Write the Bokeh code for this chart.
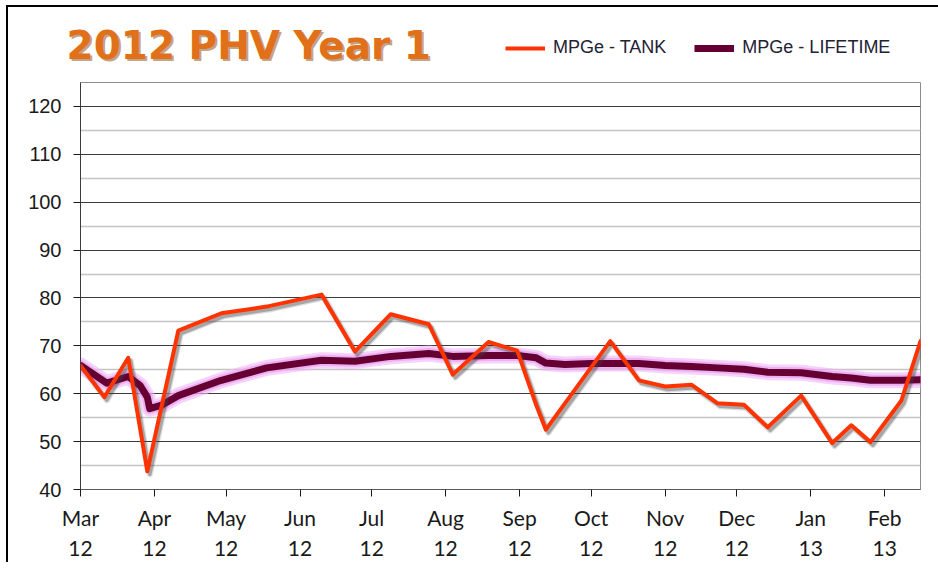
import pandas as pd
from bokeh.plotting import figure
from bokeh.layouts import column
from bokeh.models import (Range1d, FixedTicker, Legend, LegendItem, Label,
                          ColumnDataSource)
from bokeh.embed import file_html
from bokeh.resources import INLINE

# ---------------- data ----------------
tank_dates = ["2012-03-01", "2012-03-11", "2012-03-21", "2012-03-29", "2012-04-11",
              "2012-04-29", "2012-05-18", "2012-06-10", "2012-06-24", "2012-07-09",
              "2012-07-25", "2012-08-04", "2012-08-19", "2012-08-31", "2012-09-08",
              "2012-09-12", "2012-10-09", "2012-10-21", "2012-11-01", "2012-11-12",
              "2012-11-23", "2012-12-04", "2012-12-14", "2012-12-28", "2013-01-10",
              "2013-01-18", "2013-01-26", "2013-02-08", "2013-02-16"]
tank_mpge = [65.9, 59.3, 67.5, 43.8, 73.2, 76.8, 78.2, 80.7, 68.8, 76.6,
             74.5, 64.0, 70.8, 69.0, 57.6, 52.5, 71.0, 62.8, 61.5, 61.9,
             58.0, 57.7, 53.0, 59.6, 49.7, 53.4, 49.9, 58.6, 71.0]

life_dates = ["2012-03-01", "2012-03-12", "2012-03-21", "2012-03-26", "2012-03-29",
              "2012-03-30", "2012-04-04", "2012-04-11", "2012-04-29", "2012-05-18",
              "2012-06-10", "2012-06-24", "2012-07-09", "2012-07-25", "2012-08-04",
              "2012-08-19", "2012-08-31", "2012-09-08", "2012-09-12", "2012-09-20",
              "2012-10-01", "2012-10-21", "2012-11-01", "2012-11-12", "2012-11-23",
              "2012-12-04", "2012-12-14", "2012-12-28", "2013-01-10", "2013-01-18",
              "2013-01-26", "2013-02-08", "2013-02-16"]
life_mpge = [65.9, 62.2, 63.6, 61.7, 59.3, 56.9, 57.6, 59.6, 62.8, 65.4,
             67.0, 66.8, 67.8, 68.4, 67.8, 68.0, 68.0, 67.5, 66.4, 66.1,
             66.3, 66.3, 65.9, 65.7, 65.4, 65.1, 64.5, 64.4, 63.6, 63.3,
             62.8, 62.8, 62.9]

month_ticks = ["2012-03-01", "2012-04-01", "2012-05-01", "2012-06-01", "2012-07-01",
               "2012-08-01", "2012-09-01", "2012-10-01", "2012-11-01", "2012-12-01",
               "2013-01-01", "2013-02-01"]
month_labels = ["Mar\n12", "Apr\n12", "May\n12", "Jun\n12", "Jul\n12", "Aug\n12",
                "Sep\n12", "Oct\n12", "Nov\n12", "Dec\n12", "Jan\n13", "Feb\n13"]

y_major = [40, 50, 60, 70, 80, 90, 100, 110, 120]
y_minor = [45, 55, 65, 75, 85, 95, 105, 115, 125]

title_text = "2012 PHV  Year 1"
series_names = ["MPGe - TANK", "MPGe - LIFETIME"]

x_start = pd.Timestamp("2012-03-01")
x_end = pd.Timestamp("2013-02-16")
y_start, y_end = 40, 125

TANK_COLOR = "#ff3300"
LIFE_COLOR = "#660033"

# ---------------- layout sizes ----------------
W = 928
HEAD_W = 930
HEAD_H = 75
MAIN_H = 480
ML, MR, MT, MB = 72, 16, 0, 73
FW, FH = W - ML - MR, MAIN_H - MT - MB

tank_src = ColumnDataSource(dict(x=pd.to_datetime(tank_dates), y=tank_mpge))
life_src = ColumnDataSource(dict(x=pd.to_datetime(life_dates), y=life_mpge))

# ---------------- header (title + legend) ----------------
head = figure(width=HEAD_W, height=HEAD_H, x_range=Range1d(0, HEAD_W),
              y_range=Range1d(HEAD_H, 0),
              output_backend="svg", toolbar_location=None,
              x_axis_location=None, y_axis_location=None,
              min_border_left=0, min_border_right=0, min_border_top=0, min_border_bottom=0)
head.frame_align = False
head.grid.visible = False
head.outline_line_color = None
head.background_fill_color = "white"
head.border_fill_color = "white"

for off, col, alpha in [(2, "#8a4a12", 0.5), (0, "#e0701a", 1.0)]:
    head.add_layout(Label(x=58 + off, y=38 + off, text=title_text,
                          text_baseline="middle", text_align="left",
                          text_font="DejaVu Sans", text_font_style="bold",
                          text_font_size="39px", text_color=col, text_alpha=alpha))

# legend proxies: a single blank (NaN) point, so only the legend glyph is drawn
blank = ColumnDataSource(dict(x=[float("nan")], y=[float("nan")]))
leg_tank = head.line("x", "y", source=blank, line_color=TANK_COLOR, line_width=4)
leg_life = head.line("x", "y", source=blank, line_color=LIFE_COLOR, line_width=7)
legend = Legend(items=[LegendItem(label=series_names[0], renderers=[leg_tank]),
                       LegendItem(label=series_names[1], renderers=[leg_life])],
                orientation="horizontal", location=(497, 24),
                border_line_color=None, background_fill_alpha=0,
                padding=0, margin=0, spacing=28, glyph_width=40, glyph_height=20,
                label_standoff=8, label_text_font="Liberation Sans",
                label_text_font_size="18px", label_text_color="#222233")
head.add_layout(legend, "center")

# ---------------- main chart ----------------
p = figure(width=W, height=MAIN_H, x_axis_type="datetime",
           x_range=Range1d(x_start, x_end), y_range=Range1d(y_start, y_end),
           output_backend="svg", toolbar_location=None,
           min_border_left=ML, min_border_right=MR,
           min_border_top=MT, min_border_bottom=MB)
p.frame_align = False
p.background_fill_color = "white"
p.border_fill_color = "white"
p.outline_line_color = "#8c8c8c"
p.outline_line_width = 1

# shadow ranges (shift a few pixels right/down)
to_ms = lambda t: t.value / 1e6
span_ms = to_ms(x_end) - to_ms(x_start)
dx = span_ms * 2.5 / FW
dy = (y_end - y_start) * 3.0 / FH
p.extra_x_ranges = {"sh": Range1d(to_ms(x_start) - dx, to_ms(x_end) - dx)}
p.extra_y_ranges = {"sh": Range1d(y_start + dy, y_end + dy)}

# grid
p.xgrid.visible = False
p.ygrid.grid_line_color = "#3c3c3c"
p.ygrid.grid_line_width = 1
p.ygrid.minor_grid_line_color = "#c4c4c4"
p.ygrid.minor_grid_line_width = 1.5

# lifetime glow + line
p.line("x", "y", source=life_src, line_color="#f2b4f6", line_width=16,
       line_alpha=0.6, line_join="round", line_cap="round")
p.line("x", "y", source=life_src, line_color="#e496ee", line_width=11,
       line_alpha=0.55, line_join="round", line_cap="round")
p.line("x", "y", source=life_src, line_color=LIFE_COLOR, line_width=7,
       line_join="round", line_cap="round")

# tank shadow + line
p.line("x", "y", source=tank_src, x_range_name="sh", y_range_name="sh",
       line_color="#404040", line_width=6, line_alpha=0.18, line_join="round")
p.line("x", "y", source=tank_src, x_range_name="sh", y_range_name="sh",
       line_color="#404040", line_width=3.5, line_alpha=0.35, line_join="round")
p.line("x", "y", source=tank_src, line_color=TANK_COLOR, line_width=4,
       line_join="round", line_cap="round")

# axes
tick_ms = [to_ms(pd.Timestamp(d)) for d in month_ticks]
p.xaxis.ticker = FixedTicker(ticks=tick_ms, minor_ticks=[])
p.xaxis.major_label_overrides = {t: lab for t, lab in zip(tick_ms, month_labels)}
p.xaxis.major_label_text_font = "Lato"
p.xaxis.major_label_text_font_size = "21px"
p.xaxis.major_label_text_color = "#1a1a1a"
p.xaxis.major_label_text_line_height = 1.2
p.xaxis.major_label_standoff = 8
p.xaxis.major_tick_in = 0
p.xaxis.major_tick_out = 7
p.xaxis.minor_tick_line_color = None
p.xaxis.axis_line_color = "#595959"
p.xaxis.major_tick_line_color = "#1a1a1a"

p.yaxis.ticker = FixedTicker(ticks=y_major, minor_ticks=y_minor)
p.yaxis.major_label_text_font = "Liberation Sans"
p.yaxis.major_label_text_font_size = "20px"
p.yaxis.major_label_text_color = "#1a1a1a"
p.yaxis.major_label_standoff = 12
p.yaxis.major_tick_in = 0
p.yaxis.major_tick_out = 7
p.yaxis.minor_tick_line_color = None
p.yaxis.axis_line_color = "#3c3c3c"
p.yaxis.major_tick_line_color = "#1a1a1a"

layout = column(head, p, spacing=0, margin=(5, 0, 0, 6),
                styles={"border-left": "2px solid #000000",
                        "border-top": "2px solid #000000"})

open("out.html", "w").write(file_html(layout, INLINE))
